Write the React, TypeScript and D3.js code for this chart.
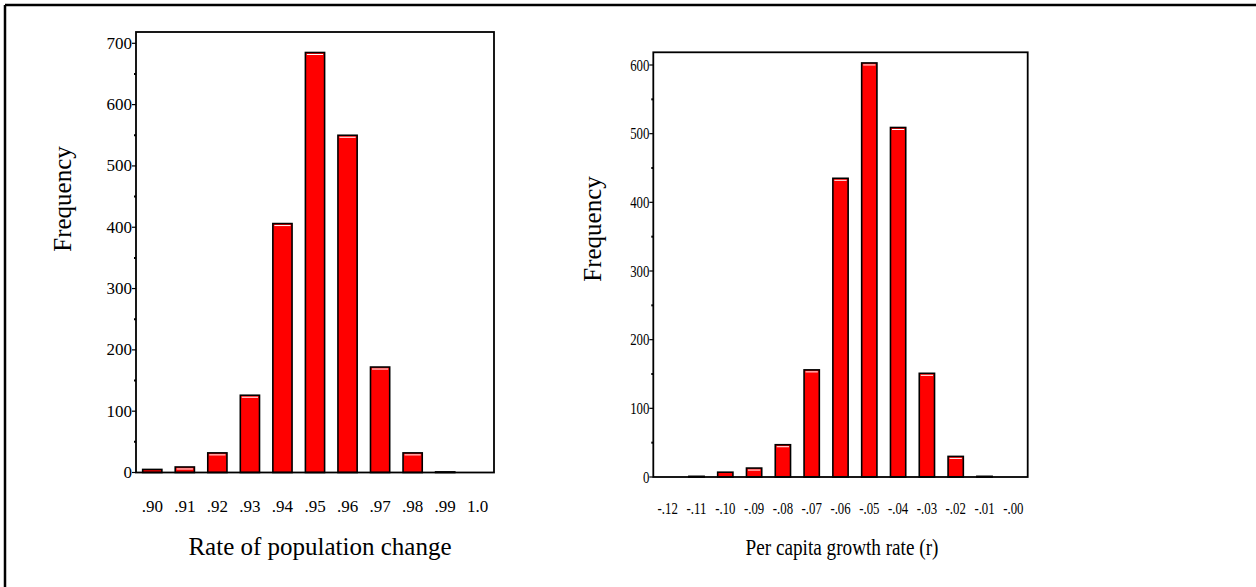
import React, { useRef, useEffect } from 'react';
import * as d3 from 'd3';

// left histogram: rate of population change
const rateBins = ['.90', '.91', '.92', '.93', '.94', '.95', '.96', '.97', '.98', '.99', '1.0'];
const rateCounts = [5, 9, 32, 126, 406, 685, 550, 172, 32, 1, 0];
const rateTicks = [0, 100, 200, 300, 400, 500, 600, 700];

// right histogram: per capita growth rate
const growthBins = ['-.12', '-.11', '-.10', '-.09', '-.08', '-.07', '-.06', '-.05', '-.04', '-.03', '-.02', '-.01', '-.00'];
const growthCounts = [0, 1, 7, 13, 47, 156, 435, 603, 509, 151, 30, 1, 0];
const growthTicks = [0, 100, 200, 300, 400, 500, 600];

const FONT = '"Liberation Serif", "Times New Roman", serif';

const App = () => {
    const ref = useRef<SVGSVGElement>(null);

    useEffect(() => {
        const svg = d3.select(ref.current);
        svg.selectAll('*').remove();

        // outer frame (top and left edges only)
        svg.append('line').attr('x1', 5).attr('x2', 1256).attr('y1', 5).attr('y2', 5)
            .attr('stroke', '#000').attr('stroke-width', 2.5);
        svg.append('line').attr('x1', 5).attr('x2', 5).attr('y1', 5).attr('y2', 587)
            .attr('stroke', '#000').attr('stroke-width', 2.5);

        const drawPanel = (opts: any) => {
            const { bins, counts, ticks, maxY, left, right, top, bottom, yTop, padInner, sx,
                tickFont, labelX, labelY, titleX, titleY, title, freqX, freqY, xLabelY } = opts;

            const x = d3.scaleBand().domain(bins).range([left, right])
                .paddingInner(padInner).paddingOuter(padInner / 2);
            const y = d3.scaleLinear().domain([0, maxY]).range([bottom, yTop]);

            const g = svg.append('g');

            // bars
            bins.forEach((b: string, i: number) => {
                const v = counts[i];
                if (v <= 0) return;
                const x0 = x(b)!;
                const w = x.bandwidth();
                const y0 = y(v);
                g.append('rect')
                    .attr('x', x0).attr('y', y0)
                    .attr('width', w).attr('height', bottom - y0)
                    .attr('fill', '#ff0000')
                    .attr('stroke', '#000').attr('stroke-width', 1.6);
                if (bottom - y0 > 5) {
                    g.append('line')
                        .attr('x1', x0 + 1.5).attr('x2', x0 + w - 1.5)
                        .attr('y1', y0 + 2).attr('y2', y0 + 2)
                        .attr('stroke', '#fff').attr('stroke-width', 1);
                }
            });

            // plot frame
            g.append('rect')
                .attr('x', left).attr('y', top)
                .attr('width', right - left).attr('height', bottom - top)
                .attr('fill', 'none').attr('stroke', '#000').attr('stroke-width', 1.8);

            // y ticks
            ticks.forEach((t: number) => {
                g.append('line').attr('x1', left - 4).attr('x2', left)
                    .attr('y1', y(t)).attr('y2', y(t)).attr('stroke', '#000').attr('stroke-width', 1.2);
                g.append('text')
                    .attr('transform', `translate(${left - 4},${y(t) + 5.5}) scale(${sx},1)`)
                    .attr('text-anchor', 'end')
                    .attr('font-family', FONT).attr('font-size', tickFont)
                    .text(t);
            });
            // minor ticks at the 50s
            d3.range(50, maxY, 100).forEach((t) => {
                g.append('line').attr('x1', left - 2).attr('x2', left)
                    .attr('y1', y(t)).attr('y2', y(t)).attr('stroke', '#000').attr('stroke-width', 2);
            });

            // x labels
            bins.forEach((b: string) => {
                g.append('text')
                    .attr('transform', `translate(${x(b)! + x.bandwidth() / 2},${xLabelY}) scale(${sx},1)`)
                    .attr('text-anchor', 'middle')
                    .attr('font-family', FONT).attr('font-size', labelX)
                    .text(b);
            });

            // axis titles
            g.append('text')
                .attr('transform', `translate(${titleX},${titleY}) scale(${sx},1)`)
                .attr('text-anchor', 'middle')
                .attr('font-family', FONT).attr('font-size', labelY)
                .text(title);
            g.append('text')
                .attr('transform', `translate(${freqX},${freqY}) rotate(-90)`)
                .attr('text-anchor', 'middle')
                .attr('font-family', FONT).attr('font-size', 25)
                .text('Frequency');
        };

        drawPanel({
            bins: rateBins, counts: rateCounts, ticks: rateTicks, maxY: 700,
            left: 136, right: 494, top: 32, bottom: 472.5, yTop: 43.3, padInner: 0.41, sx: 1,
            tickFont: 17, labelX: 17, labelY: 25, xLabelY: 512,
            titleX: 320, titleY: 555, title: 'Rate of population change',
            freqX: 71, freqY: 199,
        });

        drawPanel({
            bins: growthBins, counts: growthCounts, ticks: growthTicks, maxY: 600,
            left: 653.3, right: 1027.7, top: 52.3, bottom: 477, yTop: 65, padInner: 0.47, sx: 0.8,
            tickFont: 16, labelX: 16, labelY: 24, xLabelY: 514,
            titleX: 842, titleY: 555, title: 'Per capita growth rate (r)',
            freqX: 601, freqY: 229,
        });
    }, []);

    return (
        <svg ref={ref} width={1256} height={587}
            style={{ position: 'absolute', left: 0, top: 0, background: '#fff' }} />
    );
};

export default App;
